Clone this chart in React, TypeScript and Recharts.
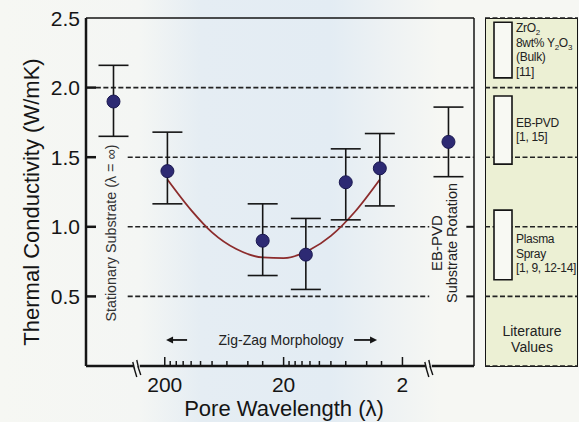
import React from 'react';
import {
  ComposedChart, BarChart, Bar, Line, Scatter, ErrorBar, XAxis, YAxis,
  CartesianGrid, ReferenceLine, ReferenceDot, LabelList,
} from 'recharts';

// measured points (lambda = pore wavelength, first/last are the off-scale cases)
const poreLambda = [540, 190, 30, 13, 6, 3.1, 0.82];
const conductivity = [1.9, 1.4, 0.9, 0.8, 1.32, 1.42, 1.61];
const errLow = [0.25, 0.235, 0.25, 0.25, 0.27, 0.27, 0.25];
const errHigh = [0.26, 0.28, 0.265, 0.26, 0.24, 0.25, 0.25];

// fitted curve
const fitLambda = [190, 120, 80, 50, 30, 20, 12, 8, 5, 3.1];
const fitValue = [1.34, 1.12, 0.96, 0.84, 0.78, 0.775, 0.835, 0.935, 1.11, 1.34];

const majorTicks = [200, 20, 2];
const minorTicks = [180, 160, 140, 120, 100, 80, 60, 40, 30, 18, 16, 14, 12, 10, 8, 6, 4, 3];
const yTicks = [0.5, 1, 1.5, 2, 2.5];

// literature ranges
const litBulk = [2.07, 2.47];
const litEbpvd = [1.45, 1.94];
const litPlasma = [0.62, 1.12];

const points = poreLambda.map((l, i) => ({
  lambda: l,
  k: conductivity[i],
  err: [errLow[i], errHigh[i]],
}));
const fit = fitLambda.map((l, i) => ({ lambda: l, k: fitValue[i] }));
const litData = [{ name: 'lit', bulk: litBulk, ebpvd: litEbpvd, plasma: litPlasma }];

const FONT = 'Liberation Sans, Arial, sans-serif';
const INK = '#151515';
const DASH = '5 2.5';

const XTick = (props: any) => {
  const { x, y, payload } = props;
  const major = majorTicks.includes(payload.value);
  return (
    <g>
      <line x1={x} x2={x} y1={y} y2={y - (major ? 9 : 5)} stroke={INK} strokeWidth={1.5} />
      {major && (
        <text x={x} y={y + 26} textAnchor="middle" fontSize={21} fontFamily={FONT} fill={INK}>
          {payload.value}
        </text>
      )}
    </g>
  );
};

const YTick = (props: any) => {
  const { x, y, payload } = props;
  return (
    <g>
      {payload.value < 2.5 && (
        <line x1={x} x2={x + 10} y1={y} y2={y} stroke={INK} strokeWidth={2.5} />
      )}
      <text x={x - 6} y={y} dy={7.5} textAnchor="end" fontSize={21} fontFamily={FONT} fill={INK}>
        {payload.value.toFixed(1)}
      </text>
    </g>
  );
};

const BreakMark = (props: any) => {
  const { cx, cy } = props;
  return (
    <g>
      <rect x={cx - 3} y={cy - 3} width={6} height={6} fill="#f4f6f4" />
      <path
        d={`M${cx - 4},${cy - 4} L${cx - 2},${cy + 4} L${cx - 3},${cy + 1} L${cx},${cy + 11}`}
        fill="none" stroke={INK} strokeWidth={1.4}
      />
      <path
        d={`M${cx},${cy - 6} L${cx + 2},${cy + 3} L${cx + 1},${cy} L${cx + 4},${cy + 9}`}
        fill="none" stroke={INK} strokeWidth={1.4}
      />
    </g>
  );
};

const StationaryLabel = (props: any) => {
  const { cx, cy } = props;
  return (
    <text
      x={cx} y={cy} transform={`rotate(-90 ${cx} ${cy})`} textAnchor="middle" dy={5}
      fontSize={14.5} fontFamily={FONT} fill="#333" textLength={177} lengthAdjust="spacingAndGlyphs"
    >
      Stationary Substrate (λ = ∞)
    </text>
  );
};

const RotationLabel = (props: any) => {
  const { cx, cy } = props;
  return (
    <g fontFamily={FONT} fill="#222">
      <text x={cx - 7} y={cy} transform={`rotate(-90 ${cx - 7} ${cy})`} textAnchor="middle" dy={5} fontSize={15}>
        EB-PVD
      </text>
      <text x={cx + 8} y={cy} transform={`rotate(-90 ${cx + 8} ${cy})`} textAnchor="middle" dy={5} fontSize={14.5}>
        Substrate Rotation
      </text>
    </g>
  );
};

const ZigZagLabel = (props: any) => {
  const { cx, cy } = props;
  return (
    <g>
      <text x={cx} y={cy} dy={5} textAnchor="middle" fontSize={14.5} fontFamily={FONT} fill="#222"
        textLength={125} lengthAdjust="spacingAndGlyphs">
        Zig-Zag Morphology
      </text>
      <line x1={cx - 110} x2={cx - 94} y1={cy} y2={cy} stroke={INK} strokeWidth={1.8} />
      <path d={`M${cx - 115},${cy} l7,-3.5 l0,7 z`} fill={INK} />
      <line x1={cx + 73} x2={cx + 90} y1={cy} y2={cy} stroke={INK} strokeWidth={1.8} />
      <path d={`M${cx + 96},${cy} l-7,-3.5 l0,7 z`} fill={INK} />
    </g>
  );
};

const Dot = (props: any) => (
  <circle cx={props.cx} cy={props.cy} r={6.5} fill="#2d2a73" stroke="#1a1850" strokeWidth={1} />
);

const Sub = ({ children }: { children: React.ReactNode }) => (
  <tspan fontSize={8} dy={3}>{children}</tspan>
);

const litLabel = (lines: React.ReactNode[], shift: number) => (props: any) => {
  const { x, y, width, height } = props;
  const top = Math.min(y, y + height);
  const mid = top + Math.abs(height) / 2 + shift;
  const lh = 14.5;
  const first = mid - ((lines.length - 1) * lh) / 2 + 4;
  return (
    <g fontFamily={FONT} fontSize={12} fill="#222">
      {lines.map((ln, i) => (
        <text key={i} x={x + width + 4} y={first + i * lh} letterSpacing={-0.3}>
          {ln}
        </text>
      ))}
    </g>
  );
};

const bulkLines = [
  <>ZrO<Sub>2</Sub></>,
  <>8wt% Y<Sub>2</Sub><tspan dy={-3}>O</tspan><Sub>3</Sub></>,
  '(Bulk)',
  '[11]',
];
const ebpvdLines = ['EB-PVD', '[1, 15]'];
const plasmaLines = ['Plasma', 'Spray', '[1, 9, 12-14]'];

export default function App() {
  return (
    <div
      style={{
        position: 'absolute', left: 0, top: 0, width: 579, height: 422, overflow: 'hidden',
        background: 'linear-gradient(90deg, #f6f7f3 0px, #f4f6f4 140px, #e5edf3 200px, #e3ecf3 330px, #eef2f3 390px, #f6f7f3 440px)',
      }}
    >
      <div
        style={{
          position: 'absolute', left: 485, top: 18, width: 93, height: 349, boxSizing: 'border-box',
          border: `1.5px solid ${INK}`, background: '#ecf0d4',
        }}
      />
      <div style={{ position: 'absolute', left: 0, top: 0 }}>
        <ComposedChart width={579} height={422} margin={{ top: 18, right: 105, bottom: 26, left: 0 }}>
          <XAxis
            dataKey="lambda" type="number" scale="log" domain={[0.5, 920]} reversed allowDataOverflow
            ticks={[...majorTicks, ...minorTicks]} interval={0} tickSize={0} tickMargin={0}
            tick={<XTick />} axisLine={{ stroke: INK, strokeWidth: 2.5 }} height={30}
            label={{
              content: (p: any) => (
                <text x={p.viewBox.x + p.viewBox.width / 2 + 4} y={416} textAnchor="middle"
                  fontSize={22} fontFamily={FONT} fill={INK}>
                  Pore Wavelength (λ)
                </text>
              ),
            }}
          />
          <YAxis
            type="number" domain={[0, 2.5]} ticks={yTicks} interval={0} tickSize={0} tickMargin={0}
            tick={<YTick />} axisLine={{ stroke: INK, strokeWidth: 2.5 }} width={86} allowDataOverflow
            label={{
              content: (p: any) => {
                const cx = 31;
                const cy = p.viewBox.y + p.viewBox.height / 2 + 10;
                return (
                  <text x={cx} y={cy} transform={`rotate(-90 ${cx} ${cy})`} textAnchor="middle" dy={8}
                    fontSize={22} fontFamily={FONT} fill={INK}>
                    Thermal Conductivity (W/mK)
                  </text>
                );
              },
            }}
          />
          <ReferenceLine y={2.5} stroke={INK} strokeWidth={1.5} />
          <ReferenceLine x={0.5} stroke={INK} strokeWidth={1.5} />
          <ReferenceLine ifOverflow="visible" segment={[{ x: 760, y: 2 }, { x: 0.5, y: 2 }]} stroke="#222" strokeWidth={1.6} strokeDasharray={DASH} />
          <ReferenceLine ifOverflow="visible" segment={[{ x: 410, y: 1.5 }, { x: 0.5, y: 1.5 }]} stroke="#222" strokeWidth={1.6} strokeDasharray={DASH} />
          <ReferenceLine ifOverflow="visible" segment={[{ x: 410, y: 1 }, { x: 1.19, y: 1 }]} stroke="#222" strokeWidth={1.6} strokeDasharray={DASH} />
          <ReferenceLine ifOverflow="visible" segment={[{ x: 410, y: 0.5 }, { x: 1.19, y: 0.5 }]} stroke="#222" strokeWidth={1.6} strokeDasharray={DASH} />
          <ReferenceLine ifOverflow="visible" segment={[{ x: 0.58, y: 1 }, { x: 0.5, y: 1 }]} stroke={INK} strokeWidth={2} />
          <ReferenceLine ifOverflow="visible" segment={[{ x: 0.58, y: 0.5 }, { x: 0.5, y: 0.5 }]} stroke={INK} strokeWidth={2} />
          <ReferenceDot x={344} y={0} ifOverflow="visible" shape={<BreakMark />} />
          <ReferenceDot x={1.2} y={0} ifOverflow="visible" shape={<BreakMark />} />
          <ReferenceDot x={570} y={0.955} ifOverflow="visible" shape={<StationaryLabel />} />
          <ReferenceDot x={0.9} y={0.884} ifOverflow="visible" shape={<RotationLabel />} />
          <ReferenceDot x={21} y={0.187} ifOverflow="visible" shape={<ZigZagLabel />} />
          <Line data={fit} dataKey="k" type="monotone" stroke="#8c2c2c" strokeWidth={1.8} dot={false} isAnimationActive={false} />
          <Scatter data={points} dataKey="k" shape={<Dot />} isAnimationActive={false}>
            <ErrorBar dataKey="err" direction="y" width={15} stroke={INK} strokeWidth={1.6} isAnimationActive={false} />
          </Scatter>
        </ComposedChart>
      </div>
      <div style={{ position: 'absolute', left: 0, top: 0 }}>
        <BarChart width={579} height={422} data={litData} barGap={-18}
          margin={{ top: 18, right: 1, bottom: 56, left: 485 }}>
          <CartesianGrid vertical={false} stroke="#222" strokeWidth={1.6} strokeDasharray={DASH} />
          <XAxis dataKey="name" hide padding={{ left: 0, right: 57 }} />
          <YAxis domain={[0, 2.5]} ticks={[0.5, 1, 1.5, 2]} hide />
          <Bar dataKey="bulk" barSize={18} fill="#f8f9f3" stroke={INK} strokeWidth={1.6} isAnimationActive={false}>
            <LabelList content={litLabel(bulkLines, 0)} />
          </Bar>
          <Bar dataKey="ebpvd" barSize={18} fill="#f8f9f3" stroke={INK} strokeWidth={1.6} isAnimationActive={false}>
            <LabelList content={litLabel(ebpvdLines, 0)} />
          </Bar>
          <Bar dataKey="plasma" barSize={18} fill="#f8f9f3" stroke={INK} strokeWidth={1.6} isAnimationActive={false}>
            <LabelList content={litLabel(plasmaLines, 9)} />
          </Bar>
        </BarChart>
      </div>
      <div
        style={{
          position: 'absolute', left: 486, top: 323, width: 92, textAlign: 'center',
          fontFamily: FONT, fontSize: 14, lineHeight: '16px', color: '#222',
        }}
      >
        Literature
        <br />
        Values
      </div>
    </div>
  );
}
